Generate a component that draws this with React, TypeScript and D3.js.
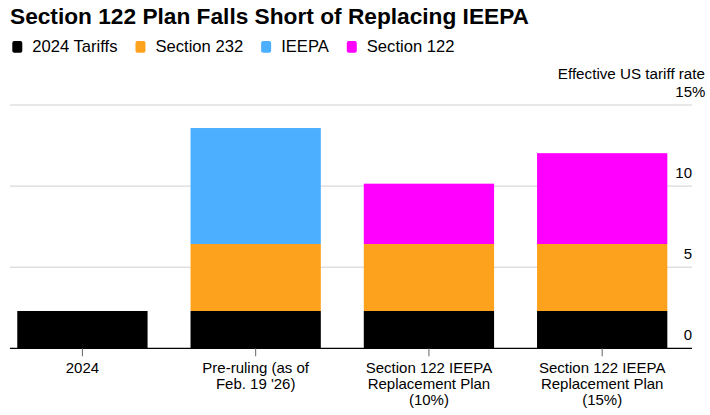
import React, { useEffect, useRef } from "react";
import * as d3 from "d3";

const categories = ["2024", "Pre-ruling", "S122 10%", "S122 15%"];
const categoryLabels: string[][] = [
  ["2024"],
  ["Pre-ruling (as of", "Feb. 19 '26)"],
  ["Section 122 IEEPA", "Replacement Plan", "(10%)"],
  ["Section 122 IEEPA", "Replacement Plan", "(15%)"],
];
const seriesNames = ["2024 Tariffs", "Section 232", "IEEPA", "Section 122"];
const tariffs2024 = [2.3, 2.3, 2.3, 2.3];
const section232 = [0, 4.13, 4.13, 4.13];
const ieepa = [0, 7.15, 0, 0];
const section122 = [0, 0, 3.72, 5.6];
const seriesColors = ["#000000", "#FDA21D", "#4DAFFF", "#FF00FF"];
const yTicks = [0, 5, 10, 15];

const W = 710;
const H = 415;
const FONT = "'Liberation Sans', Arial, Helvetica, sans-serif";

export default function App() {
  const ref = useRef<SVGSVGElement>(null);

  useEffect(() => {
    const svg = d3.select(ref.current);
    svg.selectAll("*").remove();

    const left = 10;
    const right = 692;
    const yTop = 105;
    const yBottom = 348.3;

    // title
    svg
      .append("text")
      .attr("x", 10)
      .attr("y", 23.5)
      .attr("font-family", FONT)
      .attr("font-weight", 700)
      .attr("font-size", 22.7)
      .attr("fill", "#000")
      .text("Section 122 Plan Falls Short of Replacing IEEPA");

    // legend
    let lx = 12.3;
    seriesNames.forEach((name, i) => {
      svg
        .append("rect")
        .attr("x", lx)
        .attr("y", 41)
        .attr("width", 10)
        .attr("height", 11.7)
        .attr("rx", 2)
        .attr("fill", seriesColors[i]);
      const t = svg
        .append("text")
        .attr("x", lx + 20)
        .attr("y", 52.3)
        .attr("font-family", FONT)
        .attr("font-size", 16.6)
        .attr("fill", "#000")
        .text(name);
      const w = (t.node() as SVGTextElement).getComputedTextLength();
      lx = lx + 20 + w + 18;
    });

    const y = d3.scaleLinear().domain([0, 15]).range([yBottom, yTop]);
    const x = d3
      .scaleBand<string>()
      .domain(categories)
      .range([left, 674.6])
      .paddingInner(0.248)
      .paddingOuter(0.042);

    // axis title
    svg
      .append("text")
      .attr("x", 705)
      .attr("y", 79.3)
      .attr("text-anchor", "end")
      .attr("font-family", FONT)
      .attr("font-size", 15.2)
      .attr("fill", "#000")
      .text("Effective US tariff rate");

    // gridlines
    const grid = svg.append("g");
    yTicks
      .filter((v) => v > 0)
      .forEach((v) => {
        grid
          .append("line")
          .attr("x1", left)
          .attr("x2", right)
          .attr("y1", y(v))
          .attr("y2", y(v))
          .attr("stroke", "#d0d0d0")
          .attr("stroke-width", 1);
      });

    // tick labels
    yTicks.forEach((v) => {
      svg
        .append("text")
        .attr("x", right)
        .attr("y", y(v) - 8)
        .attr("text-anchor", "end")
        .attr("font-family", FONT)
        .attr("font-size", 15)
        .attr("fill", "#000")
        .text(String(v));
      if (v === 15) {
        svg
          .append("text")
          .attr("x", right)
          .attr("y", y(v) - 8)
          .attr("font-family", FONT)
          .attr("font-size", 15)
          .attr("fill", "#000")
          .text("%");
      }
    });

    // stacked bars
    const rows = categories.map((c, i) => ({
      cat: c,
      s0: tariffs2024[i],
      s1: section232[i],
      s2: ieepa[i],
      s3: section122[i],
    }));
    const stack = d3.stack<any>().keys(["s0", "s1", "s2", "s3"]);
    const layers = stack(rows);
    layers.forEach((layer, li) => {
      svg
        .append("g")
        .selectAll("rect")
        .data(layer.filter((d) => d[1] - d[0] > 0))
        .join("rect")
        .attr("x", (d: any) => x(d.data.cat)!)
        .attr("width", x.bandwidth())
        .attr("y", (d: any) => y(d[1]))
        .attr("height", (d: any) => y(d[0]) - y(d[1]))
        .attr("fill", seriesColors[li]);
    });

    // baseline
    svg
      .append("line")
      .attr("x1", left)
      .attr("x2", right)
      .attr("y1", yBottom)
      .attr("y2", yBottom)
      .attr("stroke", "#000")
      .attr("stroke-width", 1.2);

    // x ticks and labels
    categories.forEach((c, i) => {
      const cx = x(c)! + x.bandwidth() / 2;
      svg
        .append("line")
        .attr("x1", cx)
        .attr("x2", cx)
        .attr("y1", yBottom)
        .attr("y2", yBottom + 8)
        .attr("stroke", "#666")
        .attr("stroke-width", 1);
      categoryLabels[i].forEach((line, li) => {
        svg
          .append("text")
          .attr("x", cx)
          .attr("y", 373.3 + li * 16)
          .attr("text-anchor", "middle")
          .attr("font-family", FONT)
          .attr("font-size", 15)
          .attr("fill", "#000")
          .text(line);
      });
    });
  }, []);

  return (
    <svg
      ref={ref}
      width={W}
      height={H}
      style={{ position: "absolute", left: 0, top: 0, background: "#fff" }}
    />
  );
}
